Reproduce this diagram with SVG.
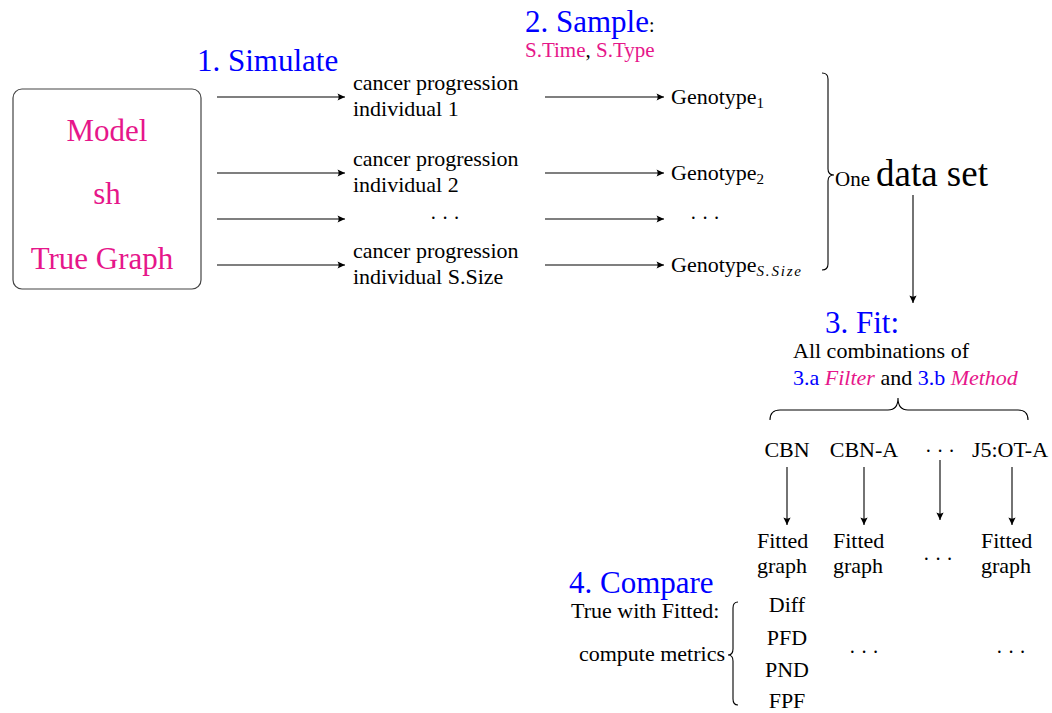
<svg xmlns="http://www.w3.org/2000/svg" width="1052" height="713" viewBox="0 0 1052 713">
<style>
text{font-family:"Liberation Serif","Times New Roman",serif;fill:#000;font-size:22px}
text.big,tspan.big{font-size:31px}
text.dots{font-size:20px}
.blue{fill:#0000FF}
.mag{fill:#E6168A}
.it{font-style:italic}
.conn line{stroke:#000;stroke-width:1.1;fill:none}
.brace{stroke:#000;stroke-width:1.1;fill:none}
</style>
<defs>
<marker id="ah" markerUnits="userSpaceOnUse" markerWidth="12" markerHeight="10" viewBox="-9 -5 10 10" refX="0" refY="0" orient="auto">
<path d="M0,0 L-7.5,-3.6 Q-5.2,0 -7.5,3.6 Z" fill="#000"/>
</marker>
</defs>
<rect width="1052" height="713" fill="#fff"/>

<g id="model">
<rect x="13" y="89" width="188" height="200" rx="9" ry="9" fill="none" stroke="#444" stroke-width="1.2"/>
<text class="big mag" x="107" y="141" text-anchor="middle">Model</text>
<text class="big mag" x="107" y="204" text-anchor="middle">sh</text>
<text class="big mag" x="102" y="269" text-anchor="middle">True Graph</text>
</g>

<g id="simulate-label"><text class="big blue" x="197" y="71">1. Simulate</text></g>

<g id="sample-label">
<text x="525" y="32"><tspan class="big blue">2. Sample</tspan><tspan style="font-size:20px">:</tspan></text>
<text x="525" y="57" style="font-size:21px"><tspan class="mag">S.Time</tspan>, <tspan class="mag">S.Type</tspan></text>
</g>

<g id="ind1"><text x="353" y="90">cancer progression</text><text x="353" y="116">individual 1</text></g>
<g id="ind2"><text x="353" y="166">cancer progression</text><text x="353" y="192">individual 2</text></g>
<g id="ind-dots"><text class="dots" x="445" y="225" text-anchor="middle">· · ·</text></g>
<g id="ind3"><text x="353" y="258">cancer progression</text><text x="353" y="284">individual S.Size</text></g>

<g id="geno1"><text x="671" y="104">Genotype<tspan style="font-size:15px" dy="4">1</tspan></text></g>
<g id="geno2"><text x="671" y="180">Genotype<tspan style="font-size:15px" dy="4">2</tspan></text></g>
<g id="geno-dots"><text class="dots" x="705" y="225" text-anchor="middle">· · ·</text></g>
<g id="geno3"><text x="671" y="272">Genotype<tspan style="font-size:15px;font-style:italic" dy="4" letter-spacing="1.8">S.Size</tspan></text></g>

<g id="dataset">
<path class="brace" d="M822,73 Q828,73 828,79 L828,169 Q828,175 834,175 Q828,175 828,181 L828,264 Q828,270 822,270"/>
<text x="835" y="186" style="font-size:21px">One</text>
<text x="876" y="186" style="font-size:37px">data set</text>
</g>

<g id="fit-label">
<text class="big blue" x="825" y="333">3. Fit:</text>
<text x="793" y="358">All combinations of</text>
<text x="793" y="385"><tspan class="blue">3.a</tspan> <tspan class="mag it">Filter</tspan> and <tspan class="blue">3.b</tspan> <tspan class="mag it">Method</tspan></text>
<path class="brace" d="M770,420 Q770,410 780,410 L888,410 Q898,410 898,398 Q898,410 908,410 L1018,410 Q1028,410 1028,420"/>
</g>

<g id="m-cbn"><text x="787" y="457" text-anchor="middle">CBN</text></g>
<g id="m-cbna"><text x="864" y="457" text-anchor="middle">CBN-A</text></g>
<g id="m-dots"><text class="dots" x="940" y="458" text-anchor="middle">· · ·</text></g>
<g id="m-j5"><text x="1010" y="457" text-anchor="middle">J5:OT-A</text></g>

<g id="fit1"><text x="757" y="548">Fitted</text><text x="757" y="573">graph</text></g>
<g id="fit2"><text x="833" y="548">Fitted</text><text x="833" y="573">graph</text></g>
<g id="fit-dots"><text class="dots" x="938" y="566" text-anchor="middle">· · ·</text></g>
<g id="fit3"><text x="981" y="548">Fitted</text><text x="981" y="573">graph</text></g>

<g id="compare">
<text class="big blue" x="569" y="593">4. Compare</text>
<text x="571" y="618">True with Fitted:</text>
<text x="725" y="661" text-anchor="end">compute metrics</text>
<path class="brace" d="M738,602 Q733,602 733,608 L733,649 Q733,655 728,655 Q733,655 733,661 L733,699 Q733,705 738,705"/>
</g>

<g id="metrics">
<text x="787" y="612" text-anchor="middle">Diff</text>
<text x="787" y="645" text-anchor="middle">PFD</text>
<text x="787" y="677" text-anchor="middle">PND</text>
<text x="787" y="708" text-anchor="middle">FPF</text>
</g>
<g id="metrics-dots2"><text class="dots" x="864" y="659" text-anchor="middle">· · ·</text></g>
<g id="metrics-dots3"><text class="dots" x="1011" y="659" text-anchor="middle">· · ·</text></g>

<g class="conn" id="connectors">
<line x1="217" y1="97" x2="345" y2="97" marker-end="url(#ah)"/>
<line x1="217" y1="173" x2="345" y2="173" marker-end="url(#ah)"/>
<line x1="217" y1="219" x2="345" y2="219" marker-end="url(#ah)"/>
<line x1="217" y1="265" x2="345" y2="265" marker-end="url(#ah)"/>
<line x1="545" y1="97" x2="664" y2="97" marker-end="url(#ah)"/>
<line x1="545" y1="173" x2="664" y2="173" marker-end="url(#ah)"/>
<line x1="545" y1="219" x2="664" y2="219" marker-end="url(#ah)"/>
<line x1="545" y1="265" x2="664" y2="265" marker-end="url(#ah)"/>
<line x1="913" y1="195" x2="913" y2="303" marker-end="url(#ah)"/>
<line x1="787" y1="467" x2="787" y2="525" marker-end="url(#ah)"/>
<line x1="864" y1="467" x2="864" y2="525" marker-end="url(#ah)"/>
<line x1="940" y1="460" x2="940" y2="520" marker-end="url(#ah)"/>
<line x1="1012" y1="467" x2="1012" y2="525" marker-end="url(#ah)"/>
</g>
</svg>
